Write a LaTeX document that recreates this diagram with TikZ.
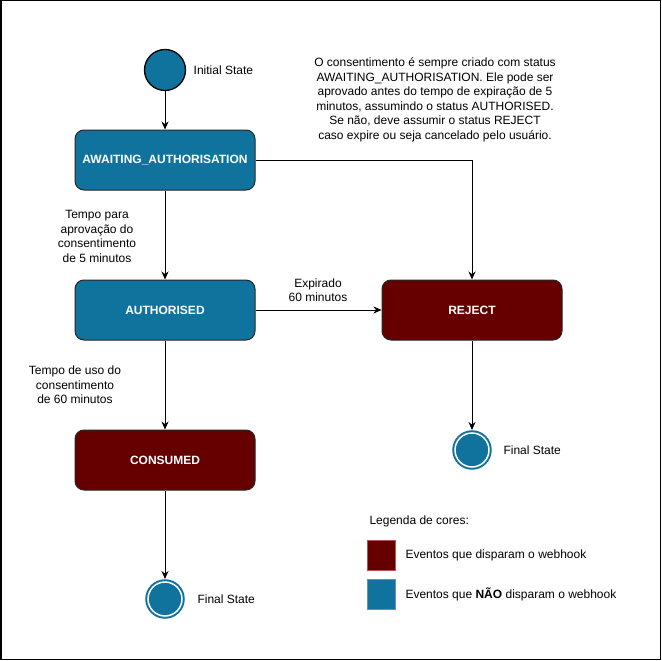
\documentclass[tikz,border=0pt]{standalone}
\usepackage{fontspec}
\setmainfont{Liberation Sans}
\usetikzlibrary{arrows.meta,positioning}
\definecolor{stateblue}{HTML}{10739E}
\definecolor{statered}{HTML}{660000}
\definecolor{legredline}{HTML}{B85450}
\definecolor{legblueline}{HTML}{6C8EBF}

\begin{document}
\begin{tikzpicture}[x=1pt,y=-1pt,
	font=\fontsize{12}{14.5}\selectfont,
	statebox/.style={draw=black!85, line width=1pt, rounded corners=9pt, minimum width=180pt, minimum height=60pt, text=white, font=\fontsize{12}{14.5}\selectfont\bfseries},
	startstate/.style={circle, draw=black, line width=1.3pt, fill=stateblue, minimum size=41pt, inner sep=0pt},
	endstate/.style={circle, draw=stateblue, fill=stateblue, line width=2pt, double=white, double distance=1.5pt, minimum size=34pt, inner sep=0pt, outer sep=3pt},
	legbox/.style={minimum width=28pt, minimum height=30pt, inner sep=0pt, line width=1pt},
	arrow/.style={-{Stealth[length=8pt,width=7pt]}, line width=1pt},
	lbl/.style={align=center}]

	\useasboundingbox (0,0) rectangle (662,661);
	\draw[line width=1.5pt] (0.75,0.75) rectangle (660.5,659.5);

	\node[startstate] (init) at (165,70) {};
	\node[right=4pt of init] (initlbl) {Initial State};

	\node[statebox, fill=stateblue] (await) at (165,160) {AWAITING\_AUTHORISATION};
	\node[statebox, fill=stateblue, below=89pt of await] (auth) {AUTHORISED};
	\node[statebox, fill=statered, below=89pt of auth] (consumed) {CONSUMED};
	\node[statebox, fill=statered] (reject) at (472,310) {REJECT};

	\node[endstate] (endreject) at (472,450) {};
	\node[right=8pt of endreject] (endrejectlbl) {Final State};
	\node[endstate] (endconsumed) at (165,599) {};
	\node[right=9pt of endconsumed] (endconsumedlbl) {Final State};

	\draw[arrow] (init) -- (await);
	\draw[arrow] (await) -- (auth);
	\draw[arrow] (await.east) -| (reject.north);
	\draw[arrow] (auth) -- (reject);
	\draw[arrow] (auth) -- (consumed);
	\draw[arrow] (consumed) -- (endconsumed);
	\draw[arrow] (reject) -- (endreject);

	\node[lbl] (lblapprove) at (97,236.5) {Tempo para\\aprovação do\\consentimento\\de 5 minutos};
	\node[lbl] (lblexpired) at (318,290) {Expirado\\60 minutos};
	\node[lbl] (lbluse) at (75,385) {Tempo de uso do\\consentimento\\de 60 minutos};

	\node[lbl] (note) at (435,100) {O consentimento é sempre criado com status\\AWAITING\_AUTHORISATION. Ele pode ser\\aprovado antes do tempo de expiração de 5\\minutos, assumindo o status AUTHORISED.\\Se não, deve assumir o status REJECT\\caso expire ou seja cancelado pelo usuário.};

	\node[anchor=west] (legtitle) at (366,521) {Legenda de cores:};
	\node[legbox, fill=statered, draw=legredline] (legred) at (381.5,555.5) {};
	\node[legbox, fill=stateblue, draw=legblueline] (legblue) at (381.5,594) {};
	\node[right=6pt of legred] (legredlbl) {Eventos que disparam o webhook};
	\node[right=6pt of legblue] (legbluelbl) {Eventos que \textbf{NÃO} disparam o webhook};
\end{tikzpicture}
\end{document}
